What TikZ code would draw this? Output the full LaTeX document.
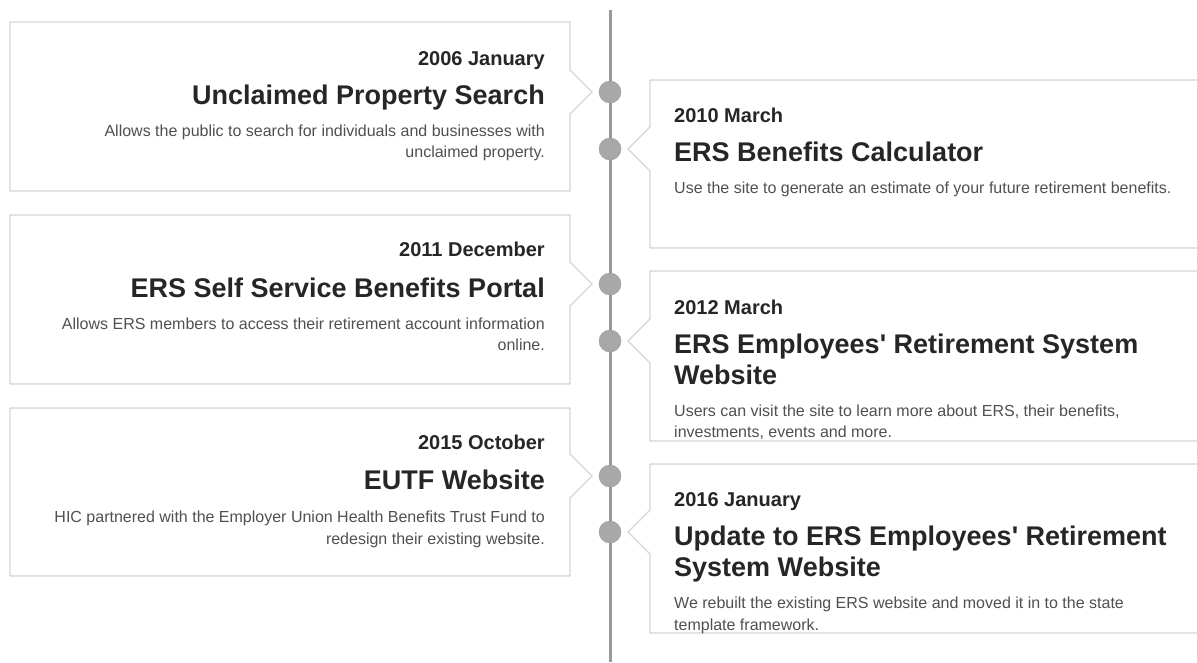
\documentclass[tikz,border=0pt]{standalone}
\usepackage{fontspec}
\setmainfont{Liberation Sans}
\usetikzlibrary{positioning}
\definecolor{spinegray}{HTML}{999999}
\definecolor{dotgray}{HTML}{A8A8A8}
\definecolor{boxgray}{HTML}{B2B2B2}
\definecolor{tipgray}{HTML}{D8D8D8}
\definecolor{headtext}{HTML}{262626}
\definecolor{blurbtext}{HTML}{505050}
\tikzstyle{card} = [draw=boxgray, line width=0.9pt, fill=white]
\tikzstyle{tip} = [draw=tipgray, line width=0.9pt]
\tikzstyle{spine} = [draw=spinegray, line width=3pt]
\tikzstyle{when} = [font=\fontsize{20}{24}\selectfont\bfseries, text=headtext]
\tikzstyle{headline} = [font=\fontsize{27}{31}\selectfont\bfseries, text=headtext]
\tikzstyle{blurb} = [font=\fontsize{16}{21}\selectfont, text=blurbtext]

\begin{document}
\begin{tikzpicture}[x=1pt, y=-1pt, every node/.style={inner sep=0pt}]
        \useasboundingbox (0,0) rectangle (1197,662);
        % Spine
        \coordinate (top) at (610,10);
        \coordinate (bot) at (610,662);
        \draw[spine] (top) -- (bot);

        % Left cards
        \draw[card] (10,22) -- (570,22) -- (570,70) -- (592,92) -- (570,114) -- (570,191) -- (10,191) -- cycle;
        \draw[tip] (570,70) -- (592,92) -- (570,114);
        \draw[card] (10,215) -- (570,215) -- (570,262) -- (592,284) -- (570,306) -- (570,384) -- (10,384) -- cycle;
        \draw[tip] (570,262) -- (592,284) -- (570,306);
        \draw[card] (10,408) -- (570,408) -- (570,454) -- (592,476) -- (570,498) -- (570,576) -- (10,576) -- cycle;
        \draw[tip] (570,454) -- (592,476) -- (570,498);

        % Right cards
        \draw[card] (1205,80) -- (650,80) -- (650,127) -- (628,149) -- (650,171) -- (650,248) -- (1205,248);
        \draw[tip] (650,127) -- (628,149) -- (650,171);
        \draw[card] (1205,271) -- (650,271) -- (650,319) -- (628,341) -- (650,363) -- (650,441) -- (1205,441);
        \draw[tip] (650,319) -- (628,341) -- (650,363);
        \draw[card] (1205,464) -- (650,464) -- (650,510) -- (628,532) -- (650,554) -- (650,633) -- (1205,633);
        \draw[tip] (650,510) -- (628,532) -- (650,554);

        % Dots
        \begin{scope}[every node/.style={circle, draw=spinegray, fill=dotgray, minimum size=22pt, inner sep=0pt}]
        \node (p1) at (610,92) {};
        \node (p2) at (610,149) {};
        \node (p3) at (610,284) {};
        \node (p4) at (610,341) {};
        \node (p5) at (610,476) {};
        \node (p6) at (610,532) {};
        \end{scope}

        % 2006
        \node[when, anchor=base east] (w1) at (545,65) {2006 January};
        \node[headline, anchor=base east] (h1) at (545,104) {Unclaimed Property Search};
        \node[blurb, anchor=base east] (b1) at (545,136) {Allows the public to search for individuals and businesses with};
        \node[blurb, anchor=base east] (b1x) at (545,157) {unclaimed property.};

        % 2010
        \node[when, anchor=base west] (w2) at (674,122) {2010 March};
        \node[headline, anchor=base west] (h2) at (674,161) {ERS Benefits Calculator};
        \node[blurb, anchor=base west] (b2) at (674,193) {Use the site to generate an estimate of your future retirement benefits.};

        % 2011
        \node[when, anchor=base east] (w3) at (545,256) {2011 December};
        \node[headline, anchor=base east] (h3) at (545,297) {ERS Self Service Benefits Portal};
        \node[blurb, anchor=base east] (b3) at (545,329) {Allows ERS members to access their retirement account information};
        \node[blurb, anchor=base east] (b3x) at (545,350) {online.};

        % 2012
        \node[when, anchor=base west] (w4) at (674,314) {2012 March};
        \node[headline, anchor=base west] (h4) at (674,353) {ERS Employees\textquotesingle\ Retirement System};
        \node[headline, anchor=base west] (h4x) at (674,384) {Website};
        \node[blurb, anchor=base west] (b4) at (674,416) {Users can visit the site to learn more about ERS, their benefits,};
        \node[blurb, anchor=base west] (b4x) at (674,437) {investments, events and more.};

        % 2015
        \node[when, anchor=base east] (w5) at (545,449) {2015 October};
        \node[headline, anchor=base east] (h5) at (545,489) {EUTF Website};
        \node[blurb, anchor=base east] (b5) at (545,522) {HIC partnered with the Employer Union Health Benefits Trust Fund to};
        \node[blurb, anchor=base east] (b5x) at (545,544) {redesign their existing website.};

        % 2016
        \node[when, anchor=base west] (w6) at (674,506) {2016 January};
        \node[headline, anchor=base west] (h6) at (674,545) {Update to ERS Employees\textquotesingle\ Retirement};
        \node[headline, anchor=base west] (h6x) at (674,576) {System Website};
        \node[blurb, anchor=base west] (b6) at (674,608) {We rebuilt the existing ERS website and moved it in to the state};
        \node[blurb, anchor=base west] (b6x) at (674,630) {template framework.};

      \end{tikzpicture}
\end{document}
